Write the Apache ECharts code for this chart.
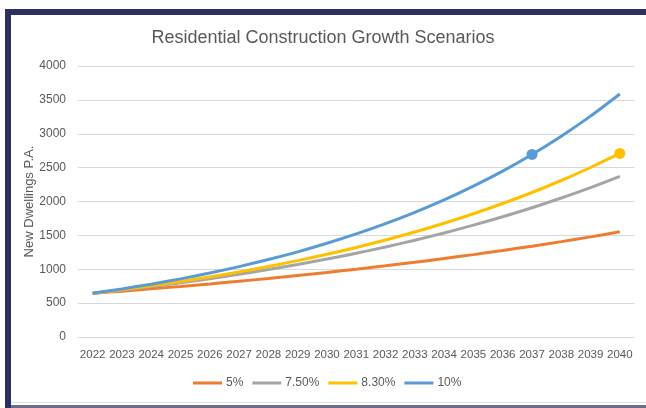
<!DOCTYPE html>
<html>
<head>
<meta charset="utf-8">
<script src="https://cdn.jsdelivr.net/npm/echarts@6/dist/echarts.min.js"></script>
<style>html,body{margin:0;padding:0;background:#fff;}#c{width:646px;height:408px;}</style>
</head>
<body>
<div id="c"></div>
<script>
const years = ['2022','2023','2024','2025','2026','2027','2028','2029','2030','2031','2032','2033','2034','2035','2036','2037','2038','2039','2040'];
const s5 = [645,677,711,747,784,823,864,908,953,1001,1051,1103,1158,1216,1277,1341,1408,1478,1552];
const s75 = [645,693,745,801,861,926,995,1070,1150,1237,1329,1429,1536,1651,1775,1908,2052,2205,2371];
const s83 = [645,699,757,819,887,961,1041,1127,1221,1322,1432,1550,1679,1819,1970,2133,2310,2502,2709];
const s10 = [645,710,780,858,944,1039,1143,1257,1383,1521,1673,1840,2024,2227,2449,2694,2964,3260,3586];
const names = ['5%','7.50%','8.30%','10%'];
const colors = ['#ED7D31','#A5A5A5','#FFC000','#5B9BD5'];
const markIdx = {'8.30%':18,'10%':15};

const chart = echarts.init(document.getElementById('c'));
const font = 'Liberation Sans';
function mk(name, data, color){
  return {
    name, type:'line', smooth:0.3, color,
    lineStyle:{width:3,color},
    symbol:'circle', symbolSize:11,
    showSymbol:true,
    itemStyle:{color},
    data: data.map((v,i)=> (markIdx[name]===i) ? {value:v} : {value:v, symbolSize:0}),
    emphasis:{disabled:true}
  };
}
chart.setOption({
  animation:false,
  backgroundColor:'#fff',
  title:{text:'Residential Construction Growth Scenarios',left:'center',top:24,
    textStyle:{fontFamily:font,fontSize:18,fontWeight:'normal',color:'#595959'}},
  grid:{left:78,right:11.5,top:66,bottom:71},
  legend:{bottom:14,left:188,icon:'rect',itemWidth:29,itemHeight:3,itemGap:9,
    textStyle:{fontFamily:font,fontSize:12,color:'#595959',padding:[0,0,0,-1]},data:names},
  xAxis:{type:'category',data:years,boundaryGap:true,
    axisLine:{show:false},axisTick:{show:false},
    axisLabel:{fontFamily:font,fontSize:11.5,color:'#595959',margin:12,interval:0}},
  yAxis:{type:'value',min:0,max:4000,interval:500,
    name:'New Dwellings P.A.',nameLocation:'middle',nameGap:42,nameRotate:90,nameMoveOverlap:false,
    nameTextStyle:{fontFamily:font,fontSize:13,color:'#595959'},
    axisLabel:{fontFamily:font,fontSize:12,color:'#595959',margin:12,formatter:v=>String(v)},
    splitLine:{lineStyle:{color:'#d9d9d9',width:1}}},
  series:[mk(names[0],s5,colors[0]),mk(names[1],s75,colors[1]),mk(names[2],s83,colors[2]),mk(names[3],s10,colors[3])],
  graphic:[
    {type:'rect',shape:{x:5,y:9,width:641,height:6},style:{fill:'#2b3060'},silent:true},
    {type:'rect',shape:{x:5,y:9,width:6,height:399},style:{fill:'#2b3060'},silent:true},
    {type:'rect',shape:{x:11,y:402,width:635,height:1},style:{fill:'#e3e3e3'},silent:true},
    {type:'rect',shape:{x:11,y:405,width:635,height:3},style:{fill:'#6b6f8c'},silent:true}
  ]
});
</script>
</body>
</html>
